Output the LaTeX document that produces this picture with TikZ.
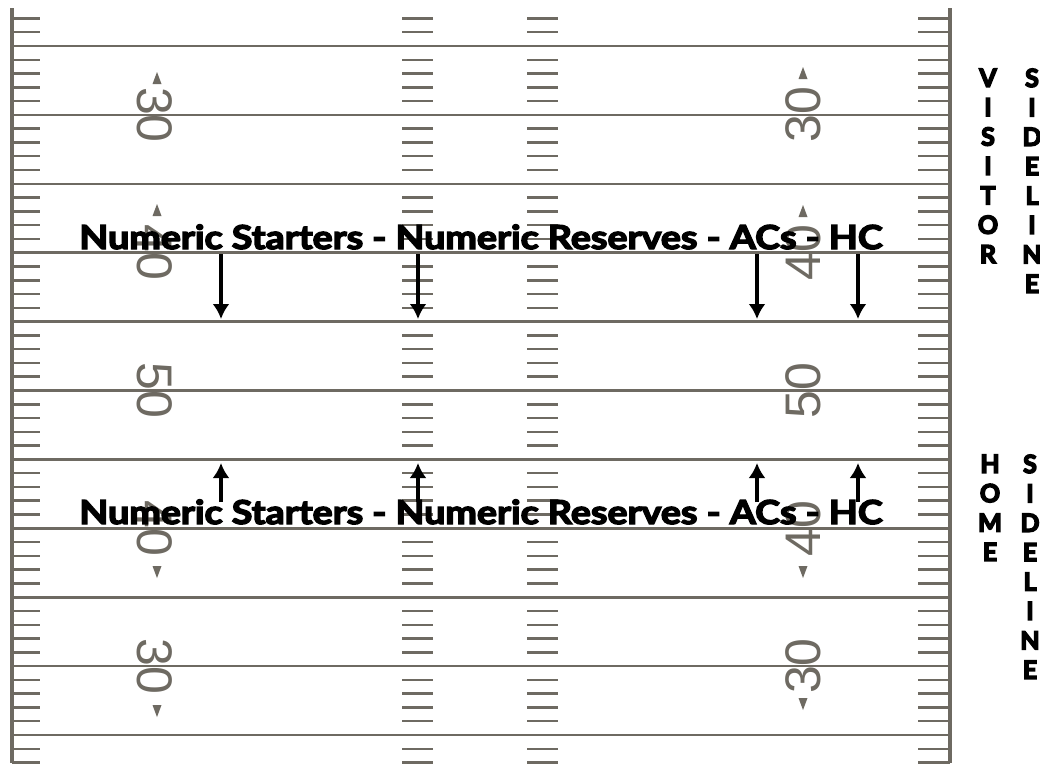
\documentclass[tikz,border=0pt]{standalone}
\usepackage{fontspec}
\usepackage{tikz}
\usetikzlibrary{arrows.meta, positioning, calc}
\setmainfont{Liberation Sans}
\newfontfamily\labelfont{Lato}[BoldFeatures={FakeBold=4}]
\newfontfamily\sidefont{Lato}[BoldFeatures={FakeBold=6}]
\newfontfamily\numfont{Liberation Sans}
\definecolor{fieldgray}{HTML}{6E6A62}
% small goal-direction triangle beside a yard number
\newcommand{\goalmark}[3]{\fill[fieldgray] (#1,#2) -- ++(-4.5,#3) -- ++(9,0) -- cycle;}
\newcommand{\benchorder}{\scalebox{1.14}[1]{Numeric Starters - Numeric Reserves - ACs - HC}}

\begin{document}
\begin{tikzpicture}[
    x=1pt, y=-1pt,
    sideline/.style={draw=fieldgray, line width=3.2pt},
    yardline/.style={draw=fieldgray, line width=2.6pt},
    tick/.style={draw=fieldgray, line width=2.5pt},
    yardnum/.style={text=fieldgray, font=\numfont\fontsize{50}{50}\selectfont, inner sep=0pt},
    caption/.style={font=\labelfont\bfseries\fontsize{33}{33}\selectfont, inner sep=0pt, anchor=base},
    sidetext/.style={font=\sidefont\bfseries\fontsize{25}{29.4}\selectfont, align=center, inner sep=0pt, anchor=north},
    arrow/.style={-{Latex[length=15pt, width=17pt]}, line width=4pt},
]
\fill[white] (0,0) rectangle (1040,763);
\useasboundingbox (0,0) rectangle (1040,763);
% Field lines
\draw[sideline] (12,8) -- (12,763);
\draw[sideline] (950,8) -- (950,763);
\foreach \k in {0,...,10}
  \draw[yardline] (12,46+68.9*\k) -- (950,46+68.9*\k);
% One-yard ticks on the sidelines and hash marks
\foreach \j in {-2,...,52}{
  \pgfmathtruncatemacro\r{mod(\j+10,5)}
  \ifnum\r>0
    \draw[tick] (12,46+13.78*\j) -- (40,46+13.78*\j);
    \draw[tick] (402,46+13.78*\j) -- (433,46+13.78*\j);
    \draw[tick] (527,46+13.78*\j) -- (558,46+13.78*\j);
    \draw[tick] (918,46+13.78*\j) -- (950,46+13.78*\j);
  \fi
}
% Yard numbers
\foreach \num/\k in {30/1, 40/3, 50/5, 40/7, 30/9}{
  \node[yardnum, rotate=-90] (lnum\k) at (155,46+68.9*\k) {\num};
  \node[yardnum, rotate=90] (rnum\k) at (803,46+68.9*\k) {\num};
}
\goalmark{157}{72}{12}
\goalmark{157}{204}{12}
\goalmark{157}{578}{-12}
\goalmark{157}{717}{-12}
\goalmark{803}{67}{12}
\goalmark{803}{205}{12}
\goalmark{803}{578}{-12}
\goalmark{803}{710}{-12}
% Bench order, visitor side and home side
\node[caption] (visitlabel) at (481,249) {\benchorder};
\node[caption] (homelabel) at (481,524) {\benchorder};
\foreach \x [count=\i] in {221, 418, 757, 858}{
  \coordinate (vstart\i) at (\x,254);
  \coordinate (vend\i) at (\x,319);
  \draw[arrow] (vstart\i) -- (vend\i);
  \coordinate (hstart\i) at (\x,502);
  \coordinate (hend\i) at (\x,463);
  \draw[arrow] (hstart\i) -- (hend\i);
}
% Sideline captions
\node[sidetext] (visitor) at (988,68.5) {V\\I\\S\\I\\T\\O\\R};
\node[sidetext] (vside) at (1032,68.5) {S\\I\\D\\E\\L\\I\\N\\E};
\node[sidetext] (home) at (990,454.5) {H\\O\\M\\E};
\node[sidetext] (hside) at (1030,454.5) {S\\I\\D\\E\\L\\I\\N\\E};
\end{tikzpicture}
\end{document}
